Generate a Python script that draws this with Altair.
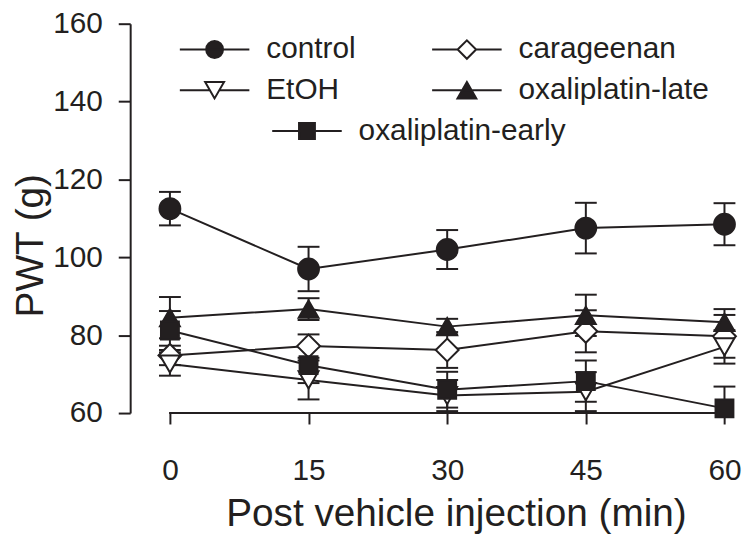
import altair as alt
import pandas as pd

INK = "#231f20"
FONT = "Liberation Sans"

# ---- data ----
times = [0, 15, 30, 45, 60]
series = ["control", "carageenan", "EtOH", "oxaliplatin-late", "oxaliplatin-early"]
control = [112.5, 97.0, 102.0, 107.5, 108.5]
control_err = [4.3, 5.7, 5.0, 6.5, 5.4]
carageenan = [74.8, 77.2, 76.2, 81.0, 79.7]
carageenan_err = [2.5, 3.0, 4.6, 5.4, 5.5]
etoh = [72.6, 68.5, 64.5, 65.5, 77.0]
etoh_err = [3.0, 5.0, 4.0, 5.0, 4.3]
ox_late = [84.5, 86.7, 82.2, 85.1, 83.3]
ox_late_err = [5.3, 2.8, 2.0, 5.3, 3.4]
ox_early = [81.2, 72.3, 66.0, 68.2, 61.2]
ox_early_err = [5.0, 4.6, 4.6, 5.3, 5.6]
y_ticks = [60, 80, 100, 120, 140, 160]

values = [control, carageenan, etoh, ox_late, ox_early]
errors = [control_err, carageenan_err, etoh_err, ox_late_err, ox_early_err]

shapes = ["circle", "diamond", "triangle-down", "triangle-up", "square"]
fills = [INK, "white", "white", INK, INK]
sizes = [440, 530, 400, 400, 324]

# legend symbols: marker with a line through it (unit = 10 px at symbolSize 400)
legend_paths = [
    "M-3.5,0H3.5M-0.85,0A0.85,0.85,0,1,1,0.85,0A0.85,0.85,0,1,1,-0.85,0Z",
    "M-3.5,0H-0.93M0.93,0H3.5M-0.93,0L0,-0.93L0.93,0L0,0.93Z",
    "M-3.5,0H-0.47M0.47,0H3.5M0,0.82L-0.95,-0.82L0.95,-0.82Z",
    "M-3.5,0H3.5M0,-0.82L0.95,0.82L-0.95,0.82Z",
    "M-3.5,0H3.5M-0.8,-0.8H0.8V0.8H-0.8Z",
]

rows = []
for name, vals, errs in zip(series, values, errors):
    for t, v, e in zip(times, vals, errs):
        rows.append({"series": name, "time": t, "pwt": v, "lo": v - e, "hi": v + e})
df = pd.DataFrame(rows)

YMIN = y_ticks[0]

x_scale = alt.Scale(domain=[-4.3, 60.18], nice=False, zero=False)
y_scale = alt.Scale(domain=[y_ticks[0], y_ticks[-1]], nice=False, zero=False)

x_enc = alt.X(
    "time:Q",
    scale=x_scale,
    axis=alt.Axis(
        values=times, domain=False, tickSize=11, labelPadding=32,
        title="Post vehicle injection (min)", titleX=328, titleY=101,
        titleAlign="center", titleBaseline="middle",
    ),
)
y_enc = alt.Y(
    "pwt:Q",
    scale=y_scale,
    axis=alt.Axis(
        values=y_ticks, tickSize=12, labelPadding=16,
        title="PWT (g)", titleAngle=270, titleX=-100, titleY=223,
        titleAlign="center", titleBaseline="middle",
    ),
)

base = alt.Chart(df)

x_axis_line = base.mark_rule(color=INK, strokeWidth=2).encode(
    x=alt.datum(times[0]), x2=alt.datum(times[-1]), y=alt.datum(YMIN)
)

lines = base.mark_line(color=INK, strokeWidth=2).encode(
    x=x_enc, y=y_enc, detail="series:N", order="time:Q"
)

bars = base.transform_calculate(
    lo_c=f"max(datum.lo, {YMIN})"
).mark_rule(color=INK, strokeWidth=2).encode(
    x="time:Q", y="lo_c:Q", y2="hi:Q"
)
caps_hi = base.mark_point(shape="stroke", size=484, color=INK, strokeWidth=2,
                          opacity=1).encode(x="time:Q", y="hi:Q")
caps_lo = base.transform_filter(f"datum.lo >= {YMIN}").mark_point(
    shape="stroke", size=484, color=INK, strokeWidth=2, opacity=1
).encode(x="time:Q", y="lo:Q")

point_layers = []
for i, name in enumerate(series):
    point_layers.append(
        base.transform_filter(alt.datum.series == name).mark_point(
            shape=shapes[i], filled=True, fill=fills[i], size=sizes[i],
            stroke=INK, strokeWidth=2, opacity=1,
        ).encode(x="time:Q", y="pwt:Q")
    )


def legend_layer(idx, lx, ly, cols):
    dom = [series[i] for i in idx]
    lg = dict(
        title=None, orient="none", legendX=lx, legendY=ly, columns=cols,
        direction="horizontal",
        columnPadding=72, rowPadding=11, padding=0,
        symbolSize=400, symbolStrokeWidth=2, symbolStrokeColor=INK,
        labelFont=FONT, labelFontSize=30, labelColor=INK, labelOffset=37,
        labelLimit=400,
    )
    return alt.Chart(df).transform_filter("false").mark_point(
        filled=True, stroke=INK, strokeWidth=2, opacity=1
    ).encode(
        x="time:Q",
        y="pwt:Q",
        shape=alt.Shape("series:N", scale=alt.Scale(domain=dom, range=[legend_paths[i] for i in idx]),
                        legend=alt.Legend(**lg)),
        fill=alt.Fill("series:N", scale=alt.Scale(domain=dom, range=[fills[i] for i in idx]),
                      legend=alt.Legend(**lg)),
        stroke=alt.Stroke("series:N", scale=alt.Scale(domain=dom, range=[INK for _ in idx]),
                          legend=alt.Legend(**lg)),
    )


legA = legend_layer([0, 1, 2, 3], 70, 11, 2)
legB = legend_layer([4], 163, 93, 1)

chart = alt.layer(
    lines, x_axis_line, bars, caps_hi, caps_lo, *point_layers, legA, legB
).resolve_scale(
    shape="independent", fill="independent", stroke="independent"
).properties(
    width=600, height=392, autosize="none",
    padding={"left": 123, "top": 14, "right": 20, "bottom": 126},
    background="white",
).configure_axis(
    labelFont=FONT, titleFont=FONT, labelColor=INK, titleColor=INK,
    domainColor=INK, tickColor=INK, domainWidth=2, tickWidth=2, grid=False,
    labelFontSize=30, titleFontSize=39, titleFontWeight="normal",
).configure_view(stroke=None)

chart.save("out.html", embed_options={"renderer": "svg", "actions": False})
